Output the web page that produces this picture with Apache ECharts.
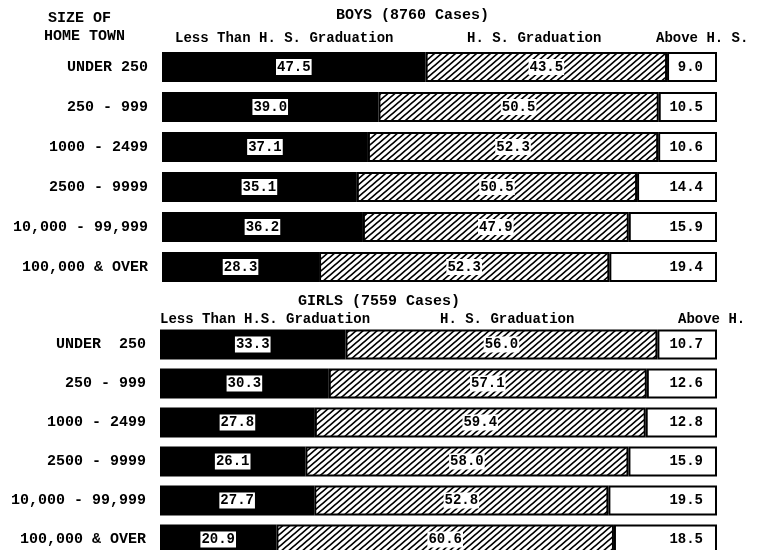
<!DOCTYPE html>
<html>
<head>
<meta charset="utf-8">
<script src="https://cdn.jsdelivr.net/npm/echarts@6/dist/echarts.min.js"></script>
<style>
  html, body { margin: 0; padding: 0; background: #fff; overflow: hidden; }
  #chart { width: 758px; height: 562px; }
</style>
</head>
<body>
<div id="chart"></div>
<script>
var boysTowns = ["UNDER 250", "250 - 999", "1000 - 2499", "2500 - 9999", "10,000 - 99,999", "100,000 & OVER"];
var girlsTowns = ["UNDER  250", "250 - 999", "1000 - 2499", "2500 - 9999", "10,000 - 99,999", "100,000 & OVER"];

var boysLess = [47.5, 39.0, 37.1, 35.1, 36.2, 28.3];
var boysHS = [43.5, 50.5, 52.3, 50.5, 47.9, 52.3];
var boysAbove = [9.0, 10.5, 10.6, 14.4, 15.9, 19.4];

var girlsLess = [33.3, 30.3, 27.8, 26.1, 27.7, 20.9];
var girlsHS = [56.0, 57.1, 59.4, 58.0, 52.8, 60.6];
var girlsAbove = [10.7, 12.6, 12.8, 15.9, 19.5, 18.5];

var font = "'Liberation Mono', 'DejaVu Sans Mono', monospace";

// diagonal hatch tile, "/" lines
var tw = 7, th = 6;
var tile = document.createElement("canvas");
tile.width = tw;
tile.height = th;
var ctx = tile.getContext("2d");
ctx.fillStyle = "#fff";
ctx.fillRect(0, 0, tw, th);
ctx.strokeStyle = "#000";
ctx.lineWidth = 1.7;
ctx.beginPath();
for (var d = -tw; d <= tw; d += tw) {
  ctx.moveTo(d - 2, th + 2 * th / tw);
  ctx.lineTo(d + tw + 2, -2 * th / tw);
}
ctx.stroke();

var chart = echarts.init(document.getElementById("chart"));

function fmt(p) {
  return p.value.toFixed(1);
}

function makeSeries(idx, less, hs, above) {
  var base = {
    type: "bar",
    stack: "s" + idx,
    xAxisIndex: idx,
    yAxisIndex: idx,
    barWidth: 30,
    silent: true
  };
  return [
    Object.assign({}, base, {
      data: less,
      itemStyle: { color: "#000", borderColor: "#000", borderWidth: 2 },
      label: {
        show: true, position: "inside", formatter: fmt,
        color: "#000", backgroundColor: "#fff", borderColor: "#000", borderWidth: 1,
        padding: [2, 1, 0, 1], fontFamily: font, fontWeight: "bold", fontSize: 14
      }
    }),
    Object.assign({}, base, {
      data: hs,
      itemStyle: { color: { image: tile, repeat: "repeat" }, borderColor: "#000", borderWidth: 2 },
      label: {
        show: true, position: "inside", formatter: fmt,
        color: "#000", backgroundColor: "#fff", padding: [1, 1],
        fontFamily: font, fontWeight: "bold", fontSize: 14
      }
    }),
    Object.assign({}, base, {
      data: above,
      itemStyle: { color: "#fff", borderColor: "#000", borderWidth: 2 },
      label: {
        show: true, position: "insideRight", distance: 14, formatter: fmt,
        color: "#000", fontFamily: font, fontWeight: "bold", fontSize: 14
      }
    })
  ];
}

function yAx(idx, towns) {
  return {
    type: "category",
    gridIndex: idx,
    data: towns,
    inverse: true,
    axisLine: { show: false },
    axisTick: { show: false },
    axisLabel: { color: "#000", fontFamily: font, fontWeight: "bold", fontSize: 15, margin: 14 }
  };
}

function xAx(idx) {
  return { type: "value", gridIndex: idx, min: 0, max: 100, show: false };
}

function txt(x, y, s) {
  return {
    type: "text", left: x, top: y,
    style: { text: s, fill: "#000", font: "bold 14px " + font }
  };
}

var option = {
  animation: false,
  backgroundColor: "#fff",
  grid: [
    { left: 162, right: 41, top: 47, height: 240 },
    { left: 160, right: 41, top: 325, height: 234 }
  ],
  xAxis: [xAx(0), xAx(1)],
  yAxis: [yAx(0, boysTowns), yAx(1, girlsTowns)],
  graphic: [
    { type: "text", left: 48, top: 11, style: { text: "SIZE OF", fill: "#000", font: "bold 15px " + font } },
    { type: "text", left: 44, top: 29, style: { text: "HOME TOWN", fill: "#000", font: "bold 15px " + font } },
    { type: "text", left: 336, top: 8, style: { text: "BOYS (8760 Cases)", fill: "#000", font: "bold 15px " + font } },
    txt(175, 31, "Less Than H. S. Graduation"),
    txt(467, 31, "H. S. Graduation"),
    txt(656, 31, "Above H. S."),
    { type: "text", left: 298, top: 294, style: { text: "GIRLS (7559 Cases)", fill: "#000", font: "bold 15px " + font } },
    txt(160, 312, "Less Than H.S. Graduation"),
    txt(440, 312, "H. S. Graduation"),
    txt(678, 312, "Above H.")
  ],
  series: makeSeries(0, boysLess, boysHS, boysAbove).concat(makeSeries(1, girlsLess, girlsHS, girlsAbove))
};

chart.setOption(option);
</script>
</body>
</html>
